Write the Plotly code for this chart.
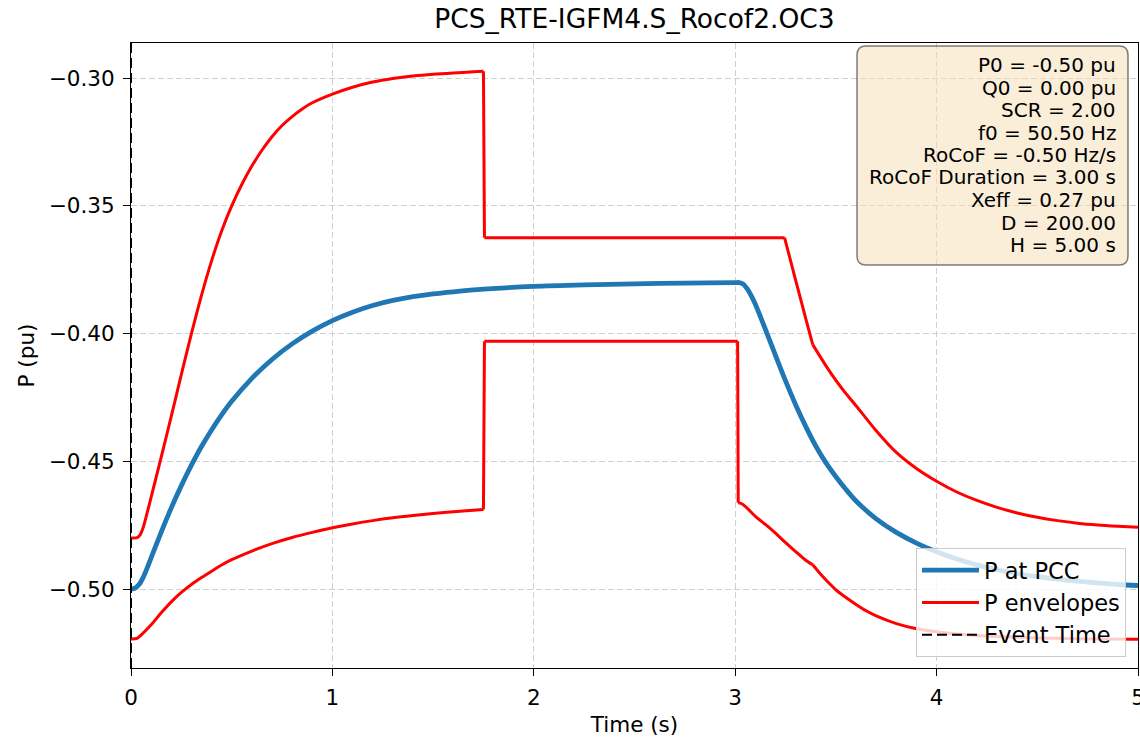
import plotly.graph_objects as go

# ---------------- data ----------------
t_pcc = [0.00, 0.02, 0.04, 0.06, 0.08, 0.10, 0.15, 0.20, 0.25, 0.30, 0.35, 0.40, 0.45, 0.50, 0.60, 0.70,
         0.80, 0.90, 1.00, 1.10, 1.20, 1.30, 1.40, 1.50, 1.60, 1.75, 2.00, 2.25, 2.50, 2.75, 3.00, 3.02,
         3.04, 3.06, 3.08, 3.10, 3.15, 3.20, 3.25, 3.30, 3.35, 3.40, 3.45, 3.50, 3.55, 3.60, 3.70, 3.80,
         3.90, 4.00, 4.10, 4.20, 4.30, 4.40, 4.50, 4.60, 4.70, 4.80, 4.90, 5.00]
p_pcc = [-0.5000, -0.4996, -0.4982, -0.4955, -0.4918, -0.4877, -0.4777, -0.4682, -0.4595, -0.4515, -0.4442,
         -0.4377, -0.4318, -0.4265, -0.4175, -0.4101, -0.4040, -0.3990, -0.3949, -0.3916, -0.3890, -0.3870,
         -0.3855, -0.3844, -0.3836, -0.3826, -0.3815, -0.3809, -0.3805, -0.3802, -0.3800, -0.3800, -0.3806,
         -0.3825, -0.3852, -0.3885, -0.3983, -0.4085, -0.4185, -0.4278, -0.4363, -0.4440, -0.4505, -0.4560,
         -0.4610, -0.4655, -0.4725, -0.4778, -0.4820, -0.4854, -0.4882, -0.4905, -0.4924, -0.4939, -0.4951,
         -0.4961, -0.4969, -0.4976, -0.4982, -0.4986]

t_up = [0.00, 0.03, 0.045, 0.06, 0.08, 0.10, 0.14, 0.18, 0.22, 0.26, 0.30, 0.35, 0.40, 0.45, 0.50, 0.55,
        0.60, 0.65, 0.70, 0.75, 0.80, 0.85, 0.90, 1.00, 1.10, 1.20, 1.30, 1.40, 1.50, 1.60, 1.70, 1.75,
        1.755, 3.245, 3.30, 3.35, 3.385, 3.45, 3.50, 3.55, 3.60, 3.70, 3.80, 3.90, 4.00, 4.10, 4.20, 4.30,
        4.40, 4.50, 4.60, 4.70, 4.80, 4.90, 5.00]
p_up = [-0.4800, -0.4799, -0.4788, -0.4760, -0.4702, -0.4640, -0.4515, -0.4388, -0.4258, -0.4127, -0.4000,
        -0.3850, -0.3715, -0.3598, -0.3500, -0.3416, -0.3344, -0.3282, -0.3229, -0.3185, -0.3150, -0.3120,
        -0.3096, -0.3062, -0.3035, -0.3015, -0.3001, -0.2991, -0.2984, -0.2979, -0.2975, -0.2973, -0.3624,
        -0.3624, -0.3790, -0.3940, -0.4043, -0.4125, -0.4183, -0.4235, -0.4282, -0.4380, -0.4465, -0.4528,
        -0.4578, -0.4620, -0.4653, -0.4680, -0.4702, -0.4719, -0.4732, -0.4742, -0.4749, -0.4754, -0.4758]
up_corners = [1.75, 1.755, 3.245, 3.385]

t_lo = [0.00, 0.03, 0.05, 0.10, 0.15, 0.20, 0.25, 0.30, 0.35, 0.40, 0.45, 0.50, 0.60, 0.70, 0.80, 0.90,
        1.00, 1.10, 1.20, 1.30, 1.40, 1.50, 1.60, 1.75, 1.755, 3.012, 3.015, 3.03, 3.05, 3.10, 3.15, 3.20,
        3.25, 3.30, 3.35, 3.385, 3.42, 3.47, 3.50, 3.55, 3.60, 3.65, 3.70, 3.80, 3.90, 4.00, 4.10, 4.20,
        4.40, 4.60, 4.80, 5.00]
p_lo = [-0.5195, -0.5193, -0.5180, -0.5140, -0.5093, -0.5050, -0.5013, -0.4982, -0.4955, -0.4930, -0.4906,
        -0.4885, -0.4851, -0.4822, -0.4798, -0.4778, -0.4760, -0.4745, -0.4732, -0.4721, -0.4712, -0.4704,
        -0.4697, -0.4688, -0.4030, -0.4030, -0.4662, -0.4665, -0.4676, -0.4715, -0.4747, -0.4781, -0.4818,
        -0.4853, -0.4887, -0.4905, -0.4938, -0.4980, -0.5003, -0.5033, -0.5060, -0.5085, -0.5105, -0.5135,
        -0.5155, -0.5167, -0.5176, -0.5182, -0.5189, -0.5193, -0.5195, -0.5196]
lo_corners = [1.75, 1.755, 3.012, 3.015, 3.385]

event_time = 0.0

x_ticks = [0, 1, 2, 3, 4, 5]
y_ticks = [-0.50, -0.45, -0.40, -0.35, -0.30]
y_tick_labels = ["\u22120.50", "\u22120.45", "\u22120.40", "\u22120.35", "\u22120.30"]

x_range = [0, 5]
y_range = [-0.5309, -0.2862]

title = "PCS_RTE-IGFM4.S_Rocof2.OC3"
info_lines = ["P0 = -0.50 pu", "Q0 = 0.00 pu", "SCR = 2.00", "f0 = 50.50 Hz", "RoCoF = -0.50 Hz/s",
              "RoCoF Duration = 3.00 s", "Xeff = 0.27 pu", "D = 200.00", "H = 5.00 s"]

# ---------------- figure ----------------
FONT = "DejaVu Sans"
W, H = 1140, 740
L, R, T, B = 131, 2, 43, 72
pw, ph = W - L - R, H - T - B

fig = go.Figure()

fig.add_trace(go.Scatter(x=t_pcc, y=p_pcc, mode="lines", name="P at PCC", legendgroup="pcc",
                         line=dict(color="#1f77b4", width=4.8, shape="spline", smoothing=0.8)))


def add_segmented(t, p, corners, name, show):
    idx = [0] + [t.index(c) for c in corners] + [len(t) - 1]
    first = True
    for a, b in zip(idx[:-1], idx[1:]):
        fig.add_trace(go.Scatter(
            x=t[a:b + 1], y=p[a:b + 1], mode="lines", name=name, legendgroup="env",
            showlegend=(show and first),
            line=dict(color="#ff0000", width=3, shape="spline" if b - a >= 2 else "linear", smoothing=0.8)))
        first = False


add_segmented(t_up, p_up, up_corners, "P envelopes", True)
add_segmented(t_lo, p_lo, lo_corners, "P envelopes", False)

fig.add_trace(go.Scatter(x=[event_time, event_time], y=y_range, mode="lines", name="Event Time",
                         legendgroup="evt", line=dict(color="black", width=2, dash="10px,5px")))


def px2paper_x(px):
    return (px - L) / pw


def px2paper_y(py):
    return (H - B - py) / ph


def rounded_rect(x0, y0, x1, y1, r):
    X0, X1 = px2paper_x(x0), px2paper_x(x1)
    Yt, Yb = px2paper_y(y0), px2paper_y(y1)
    rx, ry = r / pw, r / ph
    return (f"M {X0+rx},{Yt} L {X1-rx},{Yt} Q {X1},{Yt} {X1},{Yt-ry} "
            f"L {X1},{Yb+ry} Q {X1},{Yb} {X1-rx},{Yb} L {X0+rx},{Yb} Q {X0},{Yb} {X0},{Yb+ry} "
            f"L {X0},{Yt-ry} Q {X0},{Yt} {X0+rx},{Yt} Z")


fig.add_shape(type="path", xref="paper", yref="paper", path=rounded_rect(857, 46, 1128, 265, 9),
              fillcolor="rgba(245,222,179,0.5)", line=dict(color="rgba(0,0,0,0.5)", width=1.5),
              layer="above")
for i, line in enumerate(info_lines):
    fig.add_annotation(xref="paper", yref="paper", x=px2paper_x(1118), y=px2paper_y(65 + 22.5 * i),
                       xanchor="right", yanchor="middle", align="right", showarrow=False,
                       text=line, font=dict(family=FONT, size=20, color="black"))

axis_common = dict(showline=True, linecolor="black", linewidth=1.2, mirror=True,
                   ticks="outside", ticklen=7, tickwidth=1.2, tickcolor="black",
                   showgrid=True, gridcolor="#d0d0d0", gridwidth=1, griddash="6px,3px",
                   zeroline=False, tickfont=dict(family=FONT, size=21.5, color="black"),
                   ticklabeloverflow="allow", automargin=False)

fig.update_xaxes(range=x_range, tickvals=x_ticks, ticktext=[str(v) for v in x_ticks],
                 ticklabelstandoff=3,
                 title=dict(text="Time (s)", font=dict(family=FONT, size=21.5, color="black"), standoff=8),
                 **axis_common)
fig.update_yaxes(range=y_range, tickvals=y_ticks, ticktext=y_tick_labels,
                 ticklabelstandoff=4,
                 title=dict(text="P (pu)", font=dict(family=FONT, size=21.5, color="black"), standoff=8),
                 **axis_common)

fig.update_layout(
    width=W, height=H,
    margin=dict(l=L, r=R, t=T, b=B, autoexpand=False),
    paper_bgcolor="white", plot_bgcolor="white",
    font=dict(family=FONT, color="black"),
    title=dict(text=title, x=(L + pw / 2) / W, xanchor="center", y=1 - 19 / H, yanchor="middle",
               font=dict(family=FONT, size=26.5, color="black")),
    legend=dict(x=px2paper_x(1126), y=px2paper_y(657), xanchor="right", yanchor="bottom",
                bgcolor="rgba(255,255,255,0.8)", bordercolor="#cccccc", borderwidth=1,
                font=dict(family=FONT, size=22.5, color="black"), itemwidth=57,
                traceorder="grouped", tracegroupgap=0),
    showlegend=True,
)

fig.write_html("out.html")
